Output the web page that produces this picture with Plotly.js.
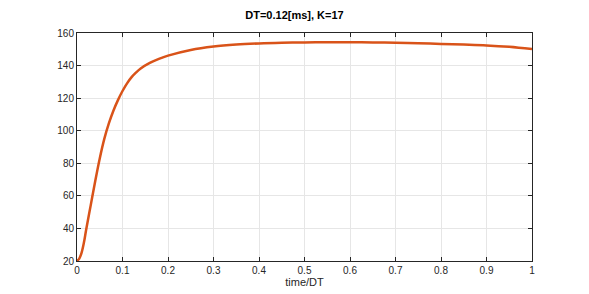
<!DOCTYPE html>
<html>
<head>
<meta charset="utf-8">
<script src="https://cdn.plot.ly/plotly-3.0.1.min.js"></script>
<style>html,body{margin:0;padding:0;background:#fff;}#chart{width:589px;height:294px;}</style>
</head>
<body>
<div id="chart"></div>
<script>
const timeDT = [0, 0.005, 0.01, 0.015, 0.02, 0.03, 0.04, 0.05, 0.06, 0.07, 0.08, 0.09, 0.1, 0.11, 0.12, 0.13, 0.14, 0.16, 0.18, 0.2, 0.25, 0.3, 0.35, 0.4, 0.45, 0.5, 0.55, 0.6, 0.65, 0.7, 0.75, 0.8, 0.85, 0.9, 0.95, 1.0];
const response = [20, 21.5, 25, 31, 39, 54, 69, 83, 95, 104.5, 112.3, 118.8, 124.4, 129.1, 132.9, 135.8, 138.2, 141.6, 144.1, 146.1, 149.6, 151.7, 152.9, 153.6, 154.0, 154.2, 154.3, 154.3, 154.2, 154.0, 153.7, 153.3, 152.9, 152.4, 151.5, 150.1];
const xTicks = [0, 0.1, 0.2, 0.3, 0.4, 0.5, 0.6, 0.7, 0.8, 0.9, 1];
const yTicks = [20, 40, 60, 80, 100, 120, 140, 160];

const axisCommon = {
  showline: true, linecolor: '#262626', linewidth: 1, mirror: 'ticks',
  ticks: 'inside', ticklen: 4, tickcolor: '#262626',
  showgrid: true, gridcolor: '#e6e6e6', gridwidth: 1, zeroline: false,
  tickfont: {family: 'Liberation Sans, Arial, sans-serif', size: 10, color: '#262626'}
};

Plotly.newPlot('chart', [{
  x: timeDT, y: response, type: 'scatter', mode: 'lines',
  line: {color: '#D95319', width: 2.5, shape: 'spline', smoothing: 1}
}], {
  width: 589, height: 294,
  margin: {l: 76.5, r: 56.5, t: 32.5, b: 33},
  paper_bgcolor: '#fff', plot_bgcolor: '#fff',
  showlegend: false,
  title: {text: '<b>DT=0.12[ms], K=17</b>', x: 0.5, xanchor: 'center', y: 0.96, yanchor: 'top',
          font: {family: 'Liberation Sans, Arial, sans-serif', size: 11, color: '#000'}},
  xaxis: Object.assign({}, axisCommon, {range: [0, 1], tickvals: xTicks, ticktext: xTicks.map(String),
    title: {text: 'time/DT', standoff: 2, font: {family: 'Liberation Sans, Arial, sans-serif', size: 11, color: '#262626'}}}),
  yaxis: Object.assign({}, axisCommon, {range: [20, 160], tickvals: yTicks})
}, {displayModeBar: false, staticPlot: true});
</script>
</body>
</html>
